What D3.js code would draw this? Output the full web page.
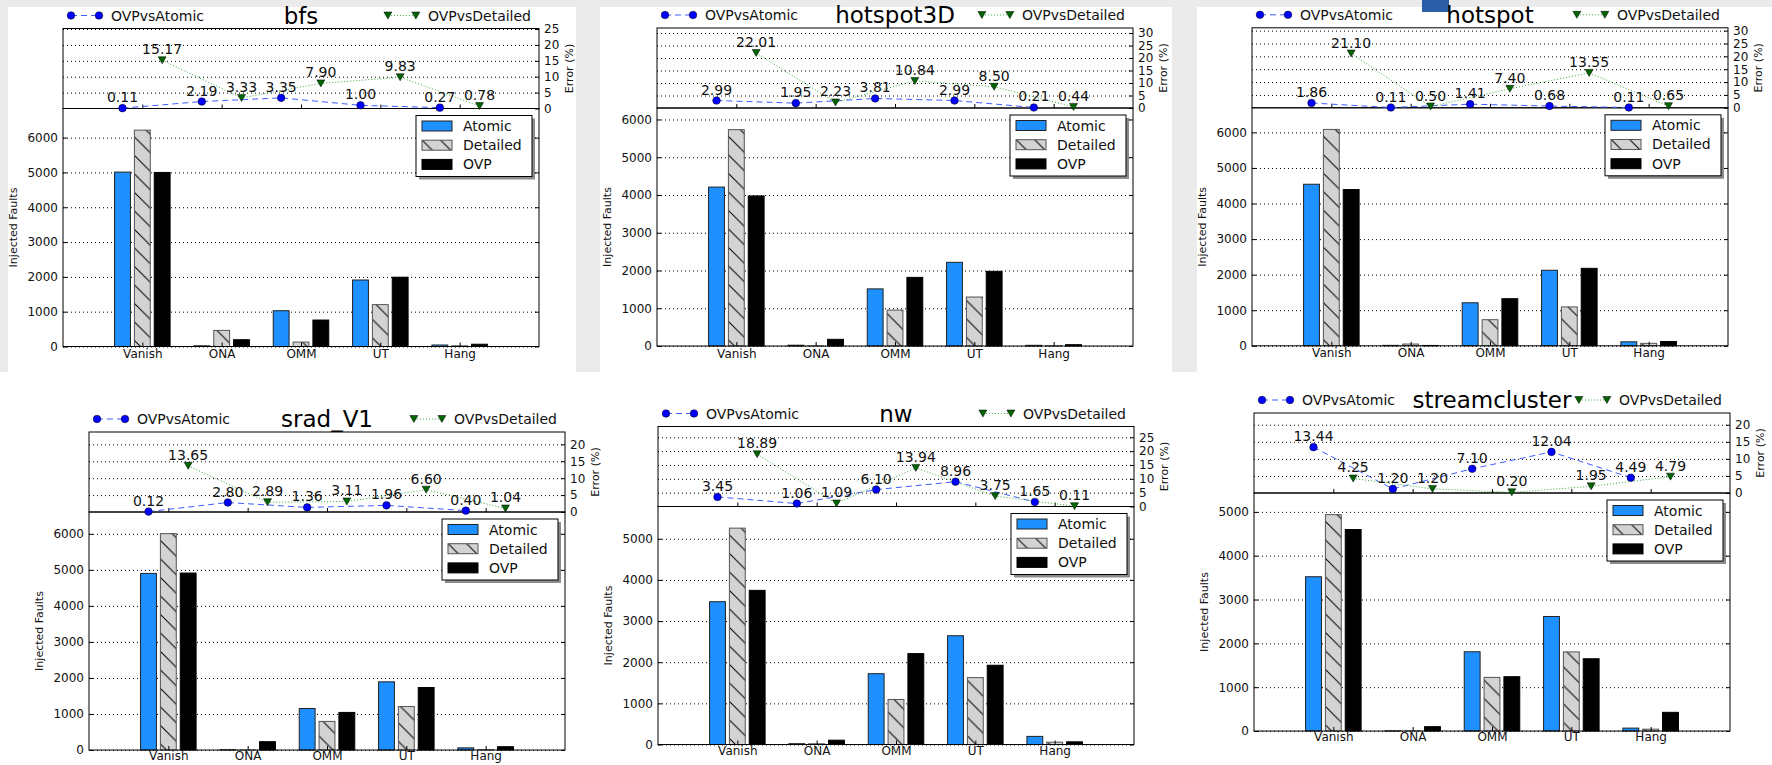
<!DOCTYPE html>
<html>
<head>
<meta charset="utf-8">
<script src="https://cdn.jsdelivr.net/npm/d3@7"></script>
<style>
  body { margin: 0; background: #ebebeb; }
  svg { display: block; font-family: "DejaVu Sans", sans-serif; }
</style>
</head>
<body>
<svg id="chart" width="1772" height="765"></svg>
<script>
// ---- data ----
var categories = ["Vanish", "ONA", "OMM", "UT", "Hang"];
var benchmarks = ["bfs", "hotspot3D", "hotspot", "srad_V1", "nw", "streamcluster"];

// injected faults per category, one row per benchmark
var atomicFaults = [
  [5010, 20, 1028, 1910, 43],
  [4210, 21, 1513, 2216, 18],
  [4542, 12, 1210, 2124, 112],
  [4901, 7, 1152, 1892, 60],
  [3470, 20, 1721, 2643, 197],
  [3520, 3, 1808, 2613, 66]
];
var detailedFaults = [
  [6215, 462, 127, 1203, 20],
  [5731, 2, 951, 1297, 5],
  [6083, 50, 734, 1093, 69],
  [6005, 1, 794, 1206, 9],
  [5258, 18, 1094, 1626, 56],
  [4937, 3, 1223, 1805, 42]
];
var ovpFaults = [
  [5000, 195, 760, 1990, 65],
  [3975, 177, 1818, 1977, 35],
  [4393, 10, 1325, 2178, 121],
  [4911, 231, 1043, 1735, 92],
  [3746, 105, 2209, 1926, 65],
  [4597, 99, 1239, 1649, 426]
];

// error (%) of OVP against the two references
var errAtomic = [
  [0.11, 2.19, 3.35, 1.00, 0.27],
  [2.99, 1.95, 3.81, 2.99, 0.21],
  [1.86, 0.11, 1.41, 0.68, 0.11],
  [0.12, 2.80, 1.36, 1.96, 0.40],
  [3.45, 1.06, 6.10, 8.96, 1.65],
  [13.44, 1.20, 7.10, 12.04, 4.49]
];
var errDetailed = [
  [15.17, 3.33, 7.90, 9.83, 0.78],
  [22.01, 2.23, 10.84, 8.50, 0.44],
  [21.10, 0.50, 7.40, 13.55, 0.65],
  [13.65, 2.89, 3.11, 6.60, 1.04],
  [18.89, 1.09, 13.94, 3.75, 0.11],
  [4.25, 1.20, 0.20, 1.95, 4.79]
];

// ---- layout ----
var W = 476, EH = 80, BH = 238;
// top-left corner of each error axes
var layout = [
  {x: 63, y: 28.5}, {x: 657, y: 28}, {x: 1252, y: 27.8},
  {x: 89, y: 432}, {x: 658, y: 426.5}, {x: 1254, y: 413}
];
var panels = [
  [8, 7, 568, 365], [600, 7, 572, 365], [1197, 7, 575, 365],
  [0, 372, 1772, 393]
];

var svg = d3.select("#chart");

// white panels
svg.selectAll("rect.panel").data(panels).enter().append("rect")
  .attr("class", "panel")
  .attr("x", function(d) { return d[0]; })
  .attr("y", function(d) { return d[1]; })
  .attr("width", function(d) { return d[2]; })
  .attr("height", function(d) { return d[3]; })
  .attr("fill", "#fff");
// little blue thing at the top edge of the screenshot
svg.append("rect").attr("x", 1422).attr("y", 0).attr("width", 27).attr("height", 12).attr("fill", "#2b5ea6");

// hatch for Detailed bars
var defs = svg.append("defs");
var pat = defs.append("pattern").attr("id", "hatch")
  .attr("patternUnits", "userSpaceOnUse").attr("width", 18.5).attr("height", 18.5);
pat.append("rect").attr("width", 18.5).attr("height", 18.5).attr("fill", "#d3d3d3");
pat.append("path")
  .attr("d", "M0,0L18.5,18.5M-9,9.5L0,18.5M9.5,-9L18.5,0M-4,14.5L4,22.5M14.5,-4L22.5,4")
  .attr("stroke", "#000").attr("stroke-width", 1);

function styleAxis(sel, size) {
  sel.select(".domain").remove();
  sel.selectAll("text").attr("font-family", "DejaVu Sans, sans-serif").attr("font-size", size).attr("fill", "#111");
  sel.selectAll(".tick line").attr("stroke", "#000");
}

function grid(sel) {
  sel.select(".domain").remove();
  sel.selectAll(".tick line").attr("stroke", "#000").attr("stroke-dasharray", "1,3").attr("stroke-width", 1);
}

function drawPanel(i) {
  var L = layout[i];
  var g = svg.append("g").attr("transform", "translate(" + L.x + "," + L.y + ")");
  var atom = atomicFaults[i], det = detailedFaults[i], ovp = ovpFaults[i];
  var ea = errAtomic[i], ed = errDetailed[i];
  var maxErr = d3.max(ea.concat(ed));
  var maxF = d3.max(atom.concat(det, ovp));

  var x = d3.scaleLinear().domain([0, 6]).range([0, W]);
  var yErr = d3.scaleLinear().domain([0, maxErr + 10]).range([EH, 0]);
  var yBar = d3.scaleLinear().domain([0, maxF * 1.1]).range([EH + BH, EH]);
  var errTicks = d3.range(0, maxErr + 10 + 0.001, 5);
  var barTicks = d3.range(0, maxF * 1.1, 1000);
  var catTicks = [1, 2, 3, 4, 5];

  // grids
  g.append("g").call(d3.axisLeft(yErr).tickValues(errTicks.slice(1)).tickSize(-W).tickFormat("")).call(grid);
  g.append("g").call(d3.axisLeft(yBar).tickValues(barTicks).tickSize(-W).tickFormat("")).call(grid);

  // bars
  var series = [
    {name: "Atomic", values: atom, off: -0.25, fill: "#1e90ff", stroke: "#222"},
    {name: "Detailed", values: det, off: 0, fill: "url(#hatch)", stroke: "#555"},
    {name: "OVP", values: ovp, off: 0.25, fill: "#000", stroke: "#000"}
  ];
  series.forEach(function(s) {
    g.append("g").selectAll("rect").data(s.values).enter().append("rect")
      .attr("x", function(d, j) { return x(j + 1 + s.off - 0.1); })
      .attr("width", x(0.2) - x(0))
      .attr("y", function(d) { return yBar(d); })
      .attr("height", function(d) { return yBar(0) - yBar(d); })
      .attr("fill", s.fill)
      .attr("stroke", s.stroke)
      .attr("stroke-width", 1);
  });

  // spines
  g.append("rect").attr("width", W).attr("height", EH).attr("fill", "none").attr("stroke", "#000");
  g.append("rect").attr("y", EH).attr("width", W).attr("height", BH).attr("fill", "none").attr("stroke", "#000");

  // bar axes ticks
  g.append("g").call(d3.axisLeft(yBar).tickValues(barTicks).tickSize(-4).tickPadding(5)
    .tickFormat(d3.format("d"))).call(styleAxis, "12px");
  g.append("g").attr("transform", "translate(" + W + ",0)")
    .call(d3.axisRight(yBar).tickValues(barTicks).tickSize(-4).tickFormat("")).call(styleAxis, "12px");
  g.append("g").attr("transform", "translate(0," + (EH + BH) + ")")
    .call(d3.axisBottom(x).tickValues(catTicks).tickSize(-4).tickPadding(i < 3 ? 3 : 1.5)
      .tickFormat(function(d) { return categories[d - 1]; })).call(styleAxis, "12px");

  // error axes ticks
  g.append("g").attr("transform", "translate(" + W + ",0)")
    .call(d3.axisRight(yErr).tickValues(errTicks).tickSize(-4).tickPadding(5)
      .tickFormat(d3.format("d"))).call(styleAxis, "12px");
  g.append("g").attr("transform", "translate(0," + EH + ")")
    .call(d3.axisBottom(x).tickValues(catTicks).tickSize(-4).tickFormat("")).call(styleAxis, "12px");

  // axis labels
  g.append("text").attr("transform", "translate(-46," + (EH + BH / 2) + ") rotate(-90)")
    .attr("text-anchor", "middle").attr("font-size", "11px").attr("fill", "#111").text("Injected Faults");
  g.append("text").attr("transform", "translate(" + (W + 34) + "," + (EH / 2) + ") rotate(-90)")
    .attr("text-anchor", "middle").attr("font-size", "11px").attr("fill", "#111").text("Error (%)");

  // error lines
  var lineA = d3.line().x(function(d, j) { return x(j + 1 - 0.25); }).y(function(d) { return yErr(d); });
  var lineD = d3.line().x(function(d, j) { return x(j + 1 + 0.25); }).y(function(d) { return yErr(d); });
  g.append("path").attr("d", lineA(ea)).attr("fill", "none").attr("stroke", "#3f5cff")
    .attr("stroke-width", 1).attr("stroke-dasharray", "6,4");
  g.append("path").attr("d", lineD(ed)).attr("fill", "none").attr("stroke", "#3aa83a")
    .attr("stroke-width", 1).attr("stroke-dasharray", "1,2");

  var tri = "M-4,-3.5L4,-3.5L0,3.5Z";
  g.append("g").selectAll("circle").data(ea).enter().append("circle")
    .attr("cx", function(d, j) { return x(j + 1 - 0.25); })
    .attr("cy", function(d) { return yErr(d); })
    .attr("r", 3.8).attr("fill", "#0000ff").attr("stroke", "#000").attr("stroke-width", 0.5);
  g.append("g").selectAll("path").data(ed).enter().append("path")
    .attr("transform", function(d, j) { return "translate(" + x(j + 1 + 0.25) + "," + yErr(d) + ")"; })
    .attr("d", tri).attr("fill", "#006400").attr("stroke", "#000").attr("stroke-width", 0.5);

  // value labels
  var labels = [];
  ea.forEach(function(v, j) { labels.push({v: v, p: j + 1 - 0.25}); });
  ed.forEach(function(v, j) { labels.push({v: v, p: j + 1 + 0.25}); });
  g.append("g").selectAll("text").data(labels).enter().append("text")
    .attr("x", function(d) { return x(d.p); })
    .attr("y", function(d) { return yErr(d.v) - 6; })
    .attr("text-anchor", "middle").attr("font-size", "14px").attr("fill", "#111")
    .text(function(d) { return d.v.toFixed(2); });

  // title
  g.append("text").attr("x", W / 2).attr("y", -5).attr("text-anchor", "middle")
    .attr("font-size", "23px").attr("fill", "#000").text(benchmarks[i]);

  // top legend
  var ly = -13;
  var la = g.append("g");
  la.append("line").attr("x1", 8).attr("x2", 36).attr("y1", ly).attr("y2", ly)
    .attr("stroke", "#3f5cff").attr("stroke-dasharray", "6,4");
  [8, 36].forEach(function(px) {
    la.append("circle").attr("cx", px).attr("cy", ly).attr("r", 3.8).attr("fill", "#0000ff").attr("stroke", "#000").attr("stroke-width", 0.5);
  });
  la.append("text").attr("x", 48).attr("y", ly + 5).attr("font-size", "14px").attr("fill", "#111").text("OVPvsAtomic");

  var ld = g.append("g");
  var dt = ld.append("text").attr("x", W - 8).attr("y", ly + 5).attr("text-anchor", "end")
    .attr("font-size", "14px").attr("fill", "#111").text("OVPvsDetailed");
  var tx = W - 8 - dt.node().getComputedTextLength();
  ld.append("line").attr("x1", tx - 40).attr("x2", tx - 12).attr("y1", ly).attr("y2", ly)
    .attr("stroke", "#3aa83a").attr("stroke-dasharray", "1,2");
  [tx - 40, tx - 12].forEach(function(px) {
    ld.append("path").attr("transform", "translate(" + px + "," + ly + ")").attr("d", tri)
      .attr("fill", "#006400").attr("stroke", "#000").attr("stroke-width", 0.5);
  });

  // bar legend
  var bx = W - 123, by = EH + 7;
  var lg = g.append("g").attr("transform", "translate(" + bx + "," + by + ")");
  lg.append("rect").attr("x", 3).attr("y", 3).attr("width", 116).attr("height", 61).attr("fill", "#8c8c8c");
  lg.append("rect").attr("width", 116).attr("height", 61).attr("fill", "#fff").attr("stroke", "#000");
  series.forEach(function(s, k) {
    var ry = 10.5 + k * 19.2;
    lg.append("rect").attr("x", 6).attr("y", ry - 5).attr("width", 30).attr("height", 10)
      .attr("fill", s.fill).attr("stroke", s.stroke);
    lg.append("text").attr("x", 47).attr("y", ry + 5).attr("font-size", "14px").attr("fill", "#111").text(s.name);
  });
}

benchmarks.forEach(function(b, i) { drawPanel(i); });
</script>
</body>
</html>
